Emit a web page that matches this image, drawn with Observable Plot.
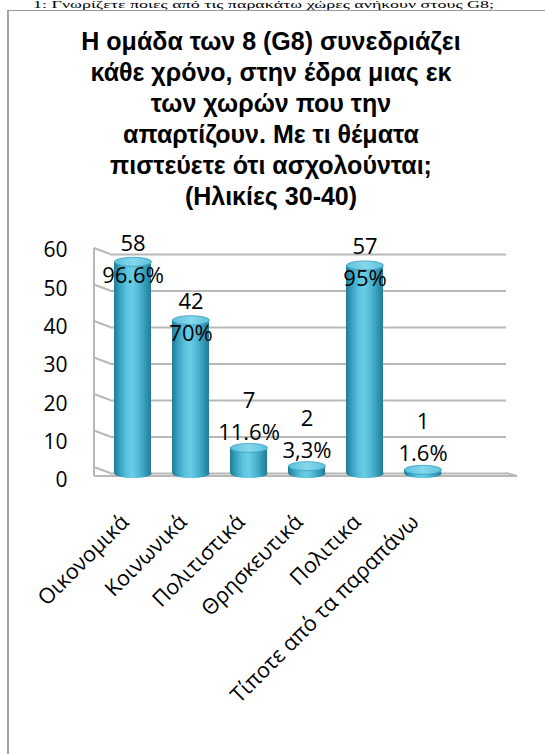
<!DOCTYPE html>
<html><head><meta charset="utf-8">
<script src="https://cdn.jsdelivr.net/npm/d3@7"></script>
<script src="https://cdn.jsdelivr.net/npm/@observablehq/plot@0.6"></script>
<style>
body{margin:0;background:#fff;}
#page{position:relative;width:545px;height:754px;overflow:hidden;background:#fff;}
#frame{position:absolute;left:7px;top:10px;width:600px;height:800px;border-left:2px solid #a3a3a3;border-top:1px solid #9a9a9a;}
#q{position:absolute;left:33px;top:0px;font:18px/18px "Liberation Serif",serif;white-space:nowrap;color:#000;transform:scaleY(0.55);transform-origin:0 0;}
#title{position:absolute;left:0;width:542px;top:26px;text-align:center;font:bold 25px/31px "Liberation Sans",Arial,sans-serif;color:#000;}
#chart{position:absolute;left:0;top:220px;}
</style></head><body>
<div id="page"><div id="frame"></div><div id="q"></div><div id="title"></div><div id="chart"></div></div>
<script>
const questionText = "1:  Γνωρίζετε ποιες από τις παρακάτω χώρες ανήκουν στους G8;";
const titleLines = [
  "Η ομάδα των 8 (G8)  συνεδριάζει",
  "κάθε χρόνο, στην έδρα μιας εκ",
  "των χωρών  που την",
  "απαρτίζουν. Με τι θέματα",
  "πιστεύετε  ότι ασχολούνται;",
  "(Ηλικίες 30-40)"
];
const categories = ["Οικονομικά", "Κοινωνικά", "Πολιτιστικά", "Θρησκευτικά", "Πολιτικα", "Τίποτε από τα παραπάνω"];
const counts = [58, 42, 7, 2, 57, 1];
const percentLabels = ["96.6%", "70%", "11.6%", "3,3%", "95%", "1.6%"];
const yTicks = [0, 10, 20, 30, 40, 50, 60];

document.getElementById("q").textContent = questionText;
const t = document.getElementById("title");
titleLines.forEach((l, i) => { if (i) t.appendChild(document.createElement("br")); t.appendChild(document.createTextNode(l)); });

const rows = categories.map((c, i) => ({cat: c, count: counts[i], pct: percentLabels[i]}));

const ellipse = {
  draw(ctx) {
    const rx = 18.5, ry = 4.5, k = 0.5523;
    ctx.moveTo(rx, 0);
    ctx.bezierCurveTo(rx, ry * k, rx * k, ry, 0, ry);
    ctx.bezierCurveTo(-rx * k, ry, -rx, ry * k, -rx, 0);
    ctx.bezierCurveTo(-rx, -ry * k, -rx * k, -ry, 0, -ry);
    ctx.bezierCurveTo(rx * k, -ry, rx, -ry * k, rx, 0);
    ctx.closePath();
  }
};

const defsMark = () => {
  const defs = d3.create("svg:defs");
  const g = defs.append("linearGradient").attr("id", "cylGrad").attr("x1", 0).attr("x2", 1).attr("y1", 0).attr("y2", 0);
  [[0, "#207b97"], [0.15, "#37a0bf"], [0.35, "#5cc4df"], [0.5, "#6acde6"], [0.7, "#4ab3d0"], [0.9, "#2c8fad"], [1, "#217c98"]]
    .forEach(([o, c]) => g.append("stop").attr("offset", o).attr("stop-color", c));
  const c2 = defs.append("linearGradient").attr("id", "capGrad").attr("x1", 0).attr("x2", 1).attr("y1", 0).attr("y2", 0);
  [[0, "#5cc0da"], [0.5, "#86d8ec"], [1, "#5cc0da"]]
    .forEach(([o, c]) => c2.append("stop").attr("offset", o).attr("stop-color", c));
  return defs.node();
};

const wallMark = (index, scales, values, dims) => {
  const {width, height, marginLeft, marginRight, marginTop, marginBottom} = dims;
  const y0 = height - marginBottom, xl = marginLeft, xr = width - marginRight;
  const g = d3.create("svg:g").attr("fill", "none").attr("stroke", "#b8b8b8").attr("stroke-width", 2);
  g.append("line").attr("x1", xl - 16).attr("x2", xl - 16).attr("y1", marginTop - 6).attr("y2", y0 + 3);
  yTicks.forEach(v => {
    const y = scales.y(v);
    g.append("line").attr("x1", xl - 16).attr("y1", y - 6).attr("x2", xl).attr("y2", y);
  });
  g.append("path").attr("d", `M${xl - 16},${y0 + 3}L${xr + 11},${y0 + 3}L${xr},${y0}`);
  return g.node();
};

const labelY = v => (v < 10 ? v + 13 : v + 5);

const svg = Plot.plot({
  width: 545,
  height: 534,
  marginTop: 34,
  marginBottom: 281,
  marginLeft: 110,
  marginRight: 39,
  style: {fontFamily: "'Open Sans', sans-serif", background: "transparent", overflow: "visible", color: "#000"},
  x: {type: "band", domain: categories, range: [101, 453], paddingInner: 0.37, paddingOuter: 0.185, axis: null},
  y: {domain: [0, 60], axis: null},
  marks: [
    defsMark,
    wallMark,
    Plot.ruleY(yTicks, {stroke: "#b8b8b8", strokeWidth: 2}),
    Plot.dot(rows, {x: "cat", y: 0, symbol: ellipse, fill: "url(#cylGrad)"}),
    Plot.barY(rows, {x: "cat", y: "count", fill: "url(#cylGrad)"}),
    Plot.dot(rows, {x: "cat", y: "count", symbol: ellipse, fill: "url(#capGrad)", stroke: "#3b9fbb", strokeWidth: 0.8}),
    Plot.text(rows, {x: "cat", y: d => labelY(d.count), text: d => String(d.count), fontSize: 22, fill: "#000"}),
    Plot.text(rows, {x: "cat", y: d => labelY(d.count), text: "pct", dy: 32, fontSize: 22, fill: "#000"}),
    Plot.text(rows, {x: "cat", y: 0, text: "cat", rotate: -45, textAnchor: "end", lineAnchor: "bottom", dy: 50, dx: -3, fontSize: 21.5, fill: "#000"}),
    ...yTicks.map(v => Plot.text([v], {frameAnchor: "left", y: d => d, text: d => String(d), textAnchor: "end", dx: -43, dy: 7 - 0.18 * v, fontSize: 21, fill: "#000"}))
  ]
});
document.getElementById("chart").appendChild(svg);
</script>
</body></html>
